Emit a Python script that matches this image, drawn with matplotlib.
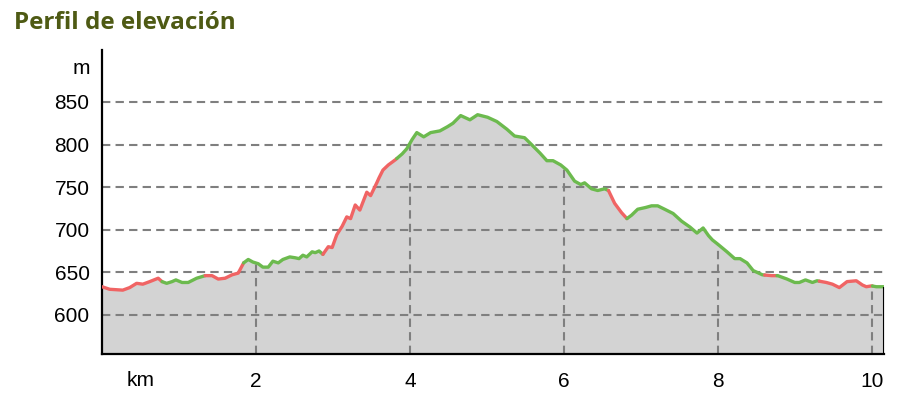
import numpy as np
import matplotlib
matplotlib.use("Agg")
import matplotlib.pyplot as plt

plt.rcParams['font.family'] = ['Liberation Sans', 'DejaVu Sans']

# distance (km) and elevation (m)
km = [0.00, 0.10, 0.27, 0.36, 0.45, 0.53, 0.62, 0.73, 0.78, 0.84, 0.91, 0.96,
      1.04, 1.12, 1.23, 1.34, 1.43, 1.51, 1.60, 1.69, 1.77, 1.84, 1.90, 1.96,
      2.03, 2.09, 2.16, 2.22, 2.29, 2.35, 2.44, 2.51, 2.56, 2.61, 2.66, 2.73,
      2.77, 2.82, 2.87, 2.94, 2.99, 3.05, 3.12, 3.18, 3.23, 3.29, 3.35, 3.44,
      3.49, 3.57, 3.60, 3.65, 3.72, 3.81, 3.90, 3.96, 4.03, 4.09, 4.18, 4.27,
      4.39, 4.49, 4.56, 4.66, 4.78, 4.88, 5.01, 5.13, 5.26, 5.36, 5.49, 5.58,
      5.69, 5.78, 5.86, 5.96, 6.04, 6.14, 6.22, 6.27, 6.36, 6.44, 6.53, 6.58,
      6.66, 6.75, 6.82, 6.88, 6.96, 7.06, 7.14, 7.22, 7.31, 7.42, 7.53, 7.64,
      7.73, 7.81, 7.88, 7.93, 8.00, 8.12, 8.22, 8.29, 8.38, 8.46, 8.58, 8.70,
      8.78, 8.90, 9.00, 9.06, 9.14, 9.23, 9.29, 9.41, 9.49, 9.58, 9.68, 9.80,
      9.88, 9.93, 10.00, 10.06, 10.16]
elev = [633, 630, 629, 632, 637, 636, 639, 643, 639, 637, 639, 641,
        638, 638, 643, 646, 646, 642, 643, 647, 649, 661, 665, 662,
        660, 656, 656, 663, 661, 665, 668, 667, 666, 670, 668, 674,
        673, 675, 671, 680, 679, 694, 704, 715, 713, 729, 723, 744,
        740, 755, 761, 770, 776, 782, 789, 795, 806, 814, 809, 814,
        816, 821, 825, 834, 829, 835, 832, 827, 818, 810, 808, 800,
        790, 781, 781, 776, 770, 757, 753, 755, 748, 746, 748, 746,
        731, 720, 713, 717, 724, 726, 728, 728, 724, 719, 710, 703,
        696, 702, 693, 688, 683, 674, 666, 666, 661, 652, 647, 646,
        646, 642, 638, 638, 641, 638, 640, 638, 636, 632, 639, 640,
        635, 633, 634, 633, 633]

# where the line colour changes
color_breaks = [0.00, 0.78, 1.34, 1.84, 2.87, 3.83, 6.58, 6.82, 8.61, 8.77, 9.32, 10.01, 10.16]
color_names = ['red', 'green', 'red', 'green', 'red', 'green', 'red', 'green',
               'red', 'green', 'red', 'green']

y_ticks = [600, 650, 700, 750, 800, 850]
x_ticks = [2, 4, 6, 8, 10]

line_colors = {'red': '#f06464', 'green': '#6cba4e'}
grid_color = '#7f7f7f'

km = np.array(km)
elev = np.array(elev)
y_bottom, y_top = 554, 911

fig = plt.figure(figsize=(9.14, 4.16), dpi=100)
ax = fig.add_axes([102 / 914, 62 / 416, 782 / 914, 304 / 416])

ax.fill_between(km, elev, y_bottom, color='#d3d3d3', lw=0, zorder=1)

for y in y_ticks:
    ax.axhline(y, color=grid_color, lw=1.5, ls=(0, (4, 2.5)), zorder=2)
for x in x_ticks:
    ax.vlines(x, y_bottom, np.interp(x, km, elev), color=grid_color,
              lw=1.5, ls=(0, (4, 2.5)), zorder=2)

for i, c in enumerate(color_names):
    a, b = color_breaks[i], color_breaks[i + 1]
    inside = (km > a) & (km < b)
    xs = np.concatenate([[a], km[inside], [b]])
    ys = np.interp(xs, km, elev)
    ax.plot(xs, ys, color=line_colors[c], lw=2.4, solid_capstyle='round',
            solid_joinstyle='round', zorder=4)

# black edge at the end of the profile
ax.vlines(km[-1], y_bottom, elev[-1], color='black', lw=1.5, zorder=5)

ax.set_xlim(0, km[-1])
ax.set_ylim(y_bottom, y_top)
ax.set_yticks(y_ticks)
ax.set_xticks(x_ticks)
ax.tick_params(length=0, labelsize=15)
ax.tick_params(axis='y', pad=9)
ax.tick_params(axis='x', pad=13)
for s in ['top', 'right']:
    ax.spines[s].set_visible(False)
for s in ['left', 'bottom']:
    ax.spines[s].set_linewidth(1.6)
    ax.spines[s].set_color('black')
ax.patch.set_alpha(0)

fig.text(90 / 914, 1 - 68 / 416, 'm', ha='right', va='center', fontsize=15)
fig.text(141 / 914, 1 - 381 / 416, 'km', ha='center', va='center', fontsize=15)
fig.text(14 / 914, 1 - 29 / 416, 'Perfil de elevación', ha='left', va='baseline',
         fontsize=17.5, fontweight='bold', color='#4e5a14', family='Open Sans')

fig.savefig('out.png', dpi=100)
